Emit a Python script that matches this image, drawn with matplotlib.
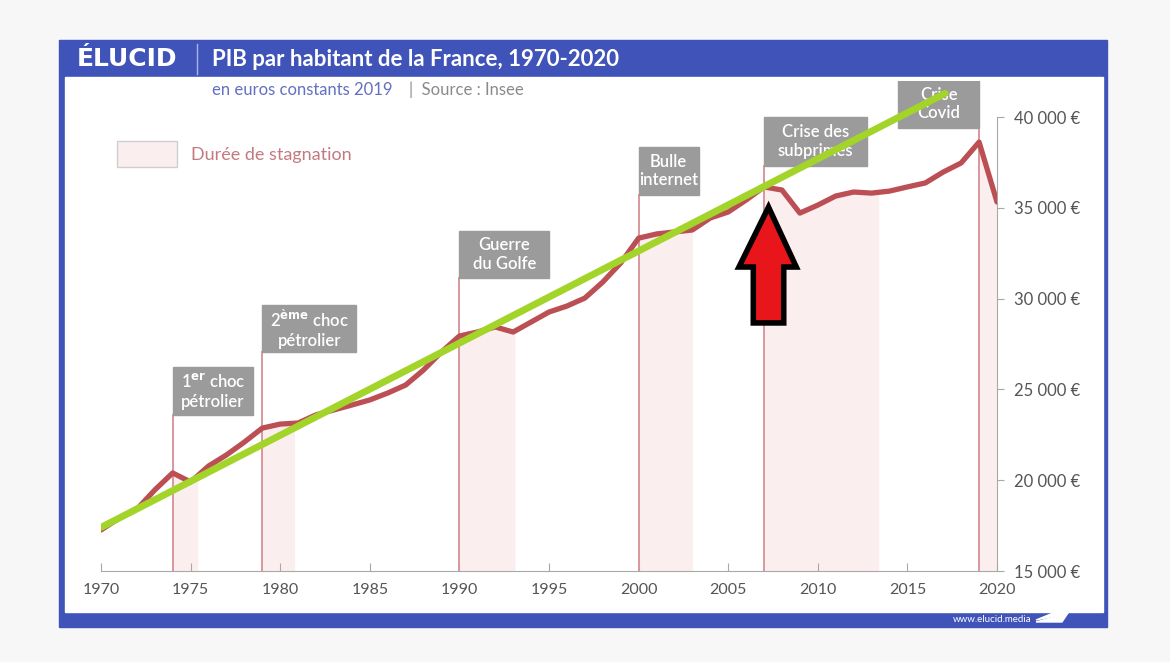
import matplotlib
matplotlib.use("Agg")
import matplotlib.pyplot as plt
import numpy as np
from matplotlib.patches import Rectangle, Polygon

plt.rcParams["font.family"] = ["Lato", "DejaVu Sans"]

# Data
years = list(range(1970, 2021))
pib = [17260, 17900, 18400, 19460, 20400, 19900, 20780, 21390, 22100, 22870,
       23090, 23150, 23600, 23870, 24140, 24420, 24800, 25240, 26070, 27060,
       27940, 28160, 28440, 28160, 28710, 29260, 29590, 30030, 30910, 31960,
       33330, 33560, 33670, 33780, 34440, 34770, 35430, 36150, 35980, 34710,
       35150, 35650, 35870, 35810, 35920, 36150, 36370, 36970, 37470, 38620,
       35320]

event_years = [1974, 1979, 1990, 2000, 2007, 2019]
event_ends = [1975.4, 1980.8, 1993.1, 2003.0, 2013.4, 2020.0]
event_labels = ["1$^{\\mathbf{er}}$ choc\npétrolier",
                "2$^{\\mathbf{ème}}$ choc\npétrolier",
                "Guerre\ndu Golfe",
                "Bulle\ninternet",
                "Crise des\nsubprimes",
                "Crise\nCovid"]

trend_years = [1970, 2017.1]
trend_values = [17400, 41300]

y_ticks = [15000, 20000, 25000, 30000, 35000, 40000]
y_tick_labels = ["15 000 €", "20 000 €", "25 000 €", "30 000 €", "35 000 €", "40 000 €"]
x_ticks = list(range(1970, 2021, 5))

# label boxes layout: (left, width, bottom, top)
box_layout = [(1974, 4.5, 23590, 26230),
              (1979, 5.25, 27060, 29650),
              (1990, 5.0, 31130, 33720),
              (2000, 3.35, 35700, 38350),
              (2007, 5.75, 37300, 40000),
              (2014.5, 4.5, 39390, 42040)]

BLUE = "#3f53b8"
RED = "#bb4f54"
VLINE = "#d9979c"
SHADE = "#fbeeee"
GREEN = "#a3d42a"

fig = plt.figure(figsize=(11.7, 6.62), dpi=100)
fig.patch.set_facecolor("#f7f7f7")

# background frame in pixel coords
bg = fig.add_axes([0, 0, 1, 1])
bg.set_xlim(0, 1170)
bg.set_ylim(662, 0)
bg.axis("off")
bg.add_patch(Rectangle((59, 40), 1048, 587, color=BLUE, zorder=0))
bg.add_patch(Rectangle((65, 77), 1038, 535, color="white", zorder=1))
bg.plot([197, 197], [44, 74], color="#aab4e6", lw=1, zorder=2)
bg.text(77, 59, "ÉLUCID", color="white", fontsize=18, fontweight="bold",
        family="DejaVu Sans", va="center", ha="left", zorder=3)
bg.text(212, 59, "PIB par habitant de la France, 1970-2020", color="white",
        fontsize=16, fontweight="bold", va="center", ha="left", zorder=3)
bg.text(212, 90, "en euros constants 2019", color="#6270c0", fontsize=12,
        va="center", ha="left", zorder=3)
bg.text(409, 90, "|  Source : Insee", color="#8a8a8a", fontsize=12,
        va="center", ha="left", zorder=3)
bg.add_patch(Rectangle((117, 141), 60, 26, facecolor=SHADE,
                       edgecolor="#cfcfcf", lw=1, zorder=3))
bg.text(191, 155, "Durée de stagnation", color="#c27a80", fontsize=13,
        va="center", ha="left", zorder=3)
bg.text(1031, 619, "www.elucid.media", color="white", fontsize=7,
        va="center", ha="right", zorder=3)
bg.add_patch(Polygon([[1036, 622], [1068, 613], [1062, 622]], color="white", zorder=3))
bg.add_patch(Polygon([[1036, 620], [1068, 607], [1068, 613]], color="white", zorder=3))

# main chart
ax = fig.add_axes([101 / 1170, 91 / 662, 896 / 1170, 490.3 / 662])
ax.set_facecolor("none")
ax.set_xlim(1970, 2020)
ax.set_ylim(15000, 42000)

for yr, end, lab, (bx, bw, bb, bt) in zip(event_years, event_ends, event_labels, box_layout):
    xs = [yr] + [y for y in years if yr < y < end] + [end]
    ax.fill_between(xs, 15000, np.interp(xs, years, pib), color=SHADE, lw=0, zorder=1)
    ax.plot([yr, yr], [15000, bb], color=VLINE, lw=1.4, zorder=2)
    ax.add_patch(Rectangle((bx, bb), bw, bt - bb, color="#9b9b9b", zorder=3))
    ax.text(bx + bw / 2, (bb + bt) / 2, lab, color="white", fontsize=12,
            fontweight="semibold", ha="center", va="center", linespacing=1.2, zorder=4)

ax.plot(years, pib, color=RED, lw=3.8, solid_capstyle="round",
        solid_joinstyle="round", zorder=5)
ax.plot(trend_years, trend_values, color=GREEN, lw=5, solid_capstyle="round", zorder=6)

# red arrow annotation
arrow = [[2007.25, 35040], [2008.8, 31740], [2008.1, 31740], [2008.1, 28660],
         [2006.4, 28660], [2006.4, 31740], [2005.6, 31740]]
ax.add_patch(Polygon(arrow, closed=True, facecolor="#e8161b", edgecolor="black",
                     lw=4, joinstyle="miter", zorder=7))

for s in ["top", "left"]:
    ax.spines[s].set_visible(False)
ax.spines["bottom"].set_color("#a8a8a8")
ax.spines["right"].set_color("#a8a8a8")
ax.spines["right"].set_bounds(15000, 40000)
ax.yaxis.tick_right()
ax.set_yticks(y_ticks)
ax.set_yticklabels(y_tick_labels)
ax.set_xticks(x_ticks)
ax.tick_params(axis="y", direction="out", length=5, color="#a8a8a8",
               labelsize=12, labelcolor="#555555", pad=7)
ax.tick_params(axis="x", direction="in", length=6, color="#a8a8a8",
               labelsize=11.5, labelcolor="#555555", pad=9)

fig.savefig("out.png", dpi=100, facecolor=fig.get_facecolor())
